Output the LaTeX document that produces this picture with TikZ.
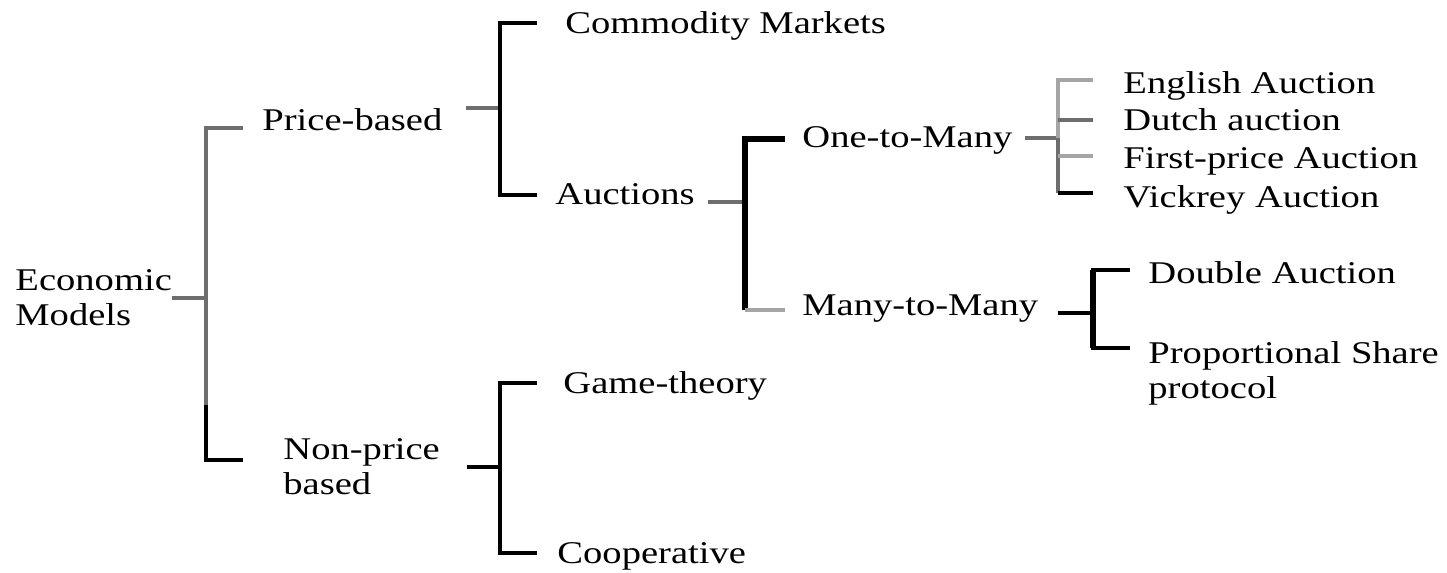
\documentclass[tikz,border=0pt]{standalone}
\usepackage{fontspec}
\setmainfont{Liberation Serif}
\usetikzlibrary{calc}

\definecolor{midgray}{RGB}{110,110,110}
\definecolor{ltgray}{RGB}{165,165,165}

\tikzset{
  lbl/.style={anchor=base west, inner sep=0pt, font=\fontsize{18}{20}\selectfont,
    xscale=1.22, transform shape},
  lbltwo/.style={lbl, anchor=west, align=left},
  bk/.style={line width=2pt, black},
  bkthick/.style={line width=3.2pt, black},
  gr/.style={line width=2pt, midgray},
  lgr/.style={line width=2pt, ltgray},
}

\begin{document}
\begin{tikzpicture}[x=0.02cm, y=-0.02cm]
    \useasboundingbox (0,0) rectangle (1447,572);
    % labels
    \node[lbltwo] (econ) at (15,298) {Economic\\Models};
    \node[lbl] (price) at (262,130) {Price-based};
    \node[lbltwo] (nonprice) at (283,467) {Non-price\\based};
    \node[lbl] (comm) at (565,33) {Commodity Markets};
    \node[lbl] (auct) at (555,204) {Auctions};
    \node[lbl] (one) at (802,147) {One-to-Many};
    \node[lbl] (many) at (802,315) {Many-to-Many};
    \node[lbl] (eng) at (1123,93) {English Auction};
    \node[lbl] (dutch) at (1123,130) {Dutch auction};
    \node[lbl] (first) at (1123,168) {First-price Auction};
    \node[lbl] (vick) at (1123,207) {Vickrey Auction};
    \node[lbl] (double) at (1148,283) {Double Auction};
    \node[lbltwo] (share) at (1148,373) {Proportional Share\\protocol};
    \node[lbl] (game) at (563,393) {Game-theory};
    \node[lbl] (coop) at (557,563) {Cooperative};
    % junctions and branch ends
    \coordinate (j0) at (206,298);
    \coordinate (j0b) at (206,405);
    \coordinate (b-price) at (243,128);
    \coordinate (b-non) at (243,460);
    \coordinate (jp) at (500,108);
    \coordinate (b-comm) at (537,23);
    \coordinate (b-auct) at (537,195);
    \coordinate (ja) at (745,202);
    \coordinate (b-one) at (785,139);
    \coordinate (b-many) at (785,310);
    \coordinate (jo) at (1058,138);
    \coordinate (b-eng) at (1093,80);
    \coordinate (b-dutch) at (1093,120);
    \coordinate (b-first) at (1093,156);
    \coordinate (b-vick) at (1093,193);
    \coordinate (jm) at (1093,313);
    \coordinate (b-double) at (1130,270);
    \coordinate (b-share) at (1130,348);
    \coordinate (jn) at (500,467);
    \coordinate (b-game) at (537,383);
    \coordinate (b-coop) at (537,553);
    % economic models
    \draw[gr] (econ.east |- j0) -- (j0);
    \draw[gr] (b-price) -| (j0) |- (b-non);
    \draw[bk] (j0b) |- (b-non);
    % price-based
    \draw[gr, shorten <=0.46cm] (price.east |- jp) -- (jp);
    \draw[bk] (b-comm) -| (jp) |- (b-auct);
    % auctions
    \draw[gr, shorten <=0.26cm] (auct.east |- ja) -- (ja);
    \draw[bkthick] (b-one) -| (ja) -- (ja |- b-many);
    \draw[lgr] (ja |- b-many) -- (b-many);
    % one-to-many
    \draw[gr, shorten <=0.24cm] (one.east |- jo) -- (jo);
    \draw[lgr] (b-eng) -| (jo);
    \draw[gr] (jo) -- (jo |- b-vick);
    \draw[gr] (jo |- b-dutch) -- (b-dutch);
    \draw[lgr] (jo |- b-first) -- (b-first);
    \draw[bk] (jo |- b-vick) -- (b-vick);
    % many-to-many
    \draw[bk, shorten <=0.38cm] (many.east |- jm) -- (jm);
    \draw[bk] (b-double) -| (jm) |- (b-share);
    \draw[bkthick] (jm |- b-double) -- (jm |- b-share);
    % non-price
    \draw[bk, shorten <=0.54cm] (nonprice.east |- jn) -- (jn);
    \draw[bk] (b-game) -| (jn) |- (b-coop);
\end{tikzpicture}
\end{document}
